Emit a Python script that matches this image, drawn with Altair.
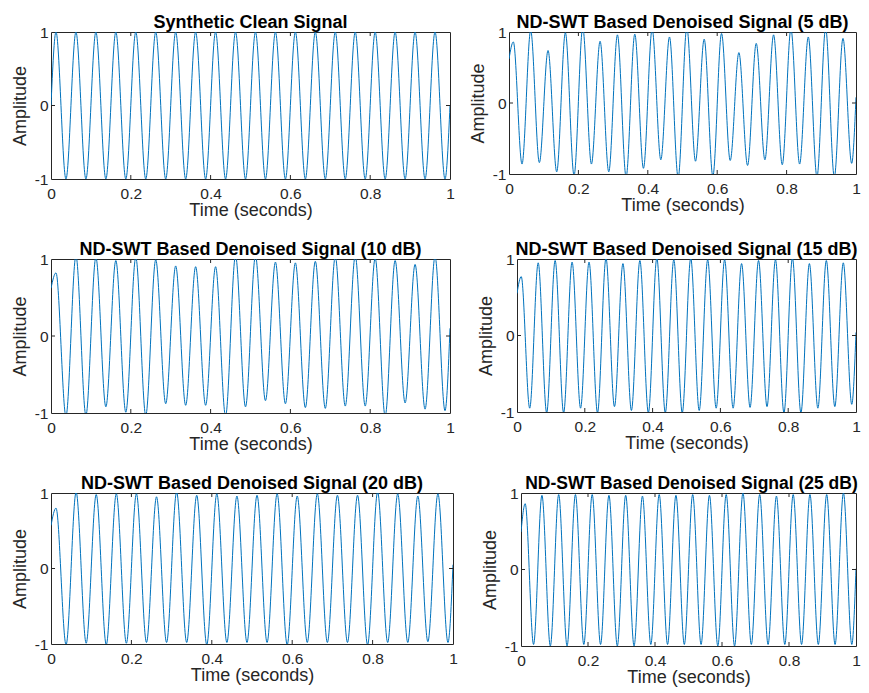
import altair as alt
import pandas as pd

# ---- data ----
times = [0, 0.0125, 0.0375, 0.0625, 0.0875, 0.1125, 0.1375, 0.1625, 0.1875, 0.2125,
         0.2375, 0.2625, 0.2875, 0.3125, 0.3375, 0.3625, 0.3875, 0.4125, 0.4375, 0.4625,
         0.4875, 0.5125, 0.5375, 0.5625, 0.5875, 0.6125, 0.6375, 0.6625, 0.6875, 0.7125,
         0.7375, 0.7625, 0.7875, 0.8125, 0.8375, 0.8625, 0.8875, 0.9125, 0.9375, 0.9625,
         0.9875, 1.0]
x_ticks = [0, 0.2, 0.4, 0.6, 0.8, 1]
y_ticks = [-1, 0, 1]

titles = ["Synthetic Clean Signal",
          "ND-SWT Based Denoised Signal (5 dB)",
          "ND-SWT Based Denoised Signal (10 dB)",
          "ND-SWT Based Denoised Signal (15 dB)",
          "ND-SWT Based Denoised Signal (20 dB)",
          "ND-SWT Based Denoised Signal (25 dB)"]

clean_start, clean_end = 0.0, 0.0
clean_peaks = [1.0] * 20
clean_troughs = [-1.0] * 20

db5_start, db5_end = 0.62, 0.08
db5_peaks = [0.86, 1.02, 0.74, 0.99, 1.06, 0.87, 0.96, 0.97, 1.04, 0.93,
             1.06, 0.90, 0.98, 0.71, 0.84, 0.96, 1.04, 0.93, 1.05, 0.91]
db5_troughs = [-0.86, -0.84, -0.97, -1.02, -0.86, -0.97, -1.04, -0.92, -0.80, -1.05,
               -0.82, -1.03, -0.81, -0.88, -0.80, -0.87, -0.86, -1.04, -1.04, -0.85]

db10_start, db10_end = 0.62, 0.10
db10_peaks = [0.82, 1.04, 1.02, 0.98, 1.02, 0.99, 0.91, 0.90, 0.90, 1.04,
              1.04, 0.96, 0.95, 0.97, 1.03, 1.04, 1.01, 0.98, 0.93, 1.03]
db10_troughs = [-1.04, -1.03, -0.92, -0.99, -1.03, -0.88, -0.90, -0.90, -1.04, -0.92,
                -0.84, -0.88, -0.93, -0.94, -0.91, -0.91, -1.04, -0.87, -0.95, -0.97]

db15_start, db15_end = 0.55, 0.04
db15_peaks = [0.77, 0.95, 0.98, 0.96, 0.96, 1.01, 0.94, 0.98, 1.01, 0.99,
              1.01, 0.99, 0.99, 0.94, 0.98, 0.99, 1.01, 0.94, 0.98, 0.95]
db15_troughs = [-0.95, -1.01, -1.01, -0.95, -1.01, -0.93, -0.98, -1.01, -1.01, -1.01,
                -0.98, -0.95, -0.95, -0.94, -0.93, -1.01, -1.01, -0.95, -0.93, -0.90]

db20_start, db20_end = 0.57, 0.05
db20_peaks = [0.80, 1.01, 0.98, 0.99, 0.99, 0.95, 1.01, 0.97, 0.99, 0.96,
              0.97, 0.99, 0.96, 0.99, 0.97, 0.97, 1.01, 0.99, 0.96, 0.99]
db20_troughs = [-1.01, -0.99, -1.01, -0.99, -0.98, -0.98, -0.98, -1.01, -0.98, -0.98,
                -0.98, -1.01, -0.98, -0.98, -0.98, -1.01, -0.98, -0.98, -0.97, -0.98]

db25_start, db25_end = 0.49, 0.01
db25_peaks = [0.86, 0.97, 0.98, 0.98, 0.98, 0.97, 0.97, 0.96, 0.98, 0.97,
              0.98, 0.97, 0.98, 1.00, 0.98, 0.96, 0.98, 0.98, 0.98, 1.00]
db25_troughs = [-0.98, -1.00, -1.00, -0.98, -0.98, -1.00, -1.00, -0.98, -0.98, -0.98,
                -0.98, -1.00, -1.00, -0.98, -0.98, -0.98, -0.98, -0.98, -0.98, -0.98]

LINE = "#0072BD"
AX = "#262626"
FONT = "Liberation Sans"


def panel(title, start, peaks, troughs, end, w, h, dx=0, tsize=18):
    vals = [start]
    for p, t in zip(peaks, troughs):
        vals += [p, t]
    vals.append(end)
    df = pd.DataFrame({"t": times, "a": vals})
    xs = alt.Scale(domain=[0, 1], nice=False, zero=False)
    ys = alt.Scale(domain=[-1, 1], nice=False, zero=False)
    xax = alt.Axis(values=x_ticks, title="Time (seconds)",
                   labelExpr="'' + datum.value", labelFlush=False,
                   labelOverlap=False, labelPadding=7, titlePadding=0)
    yax = alt.Axis(values=y_ticks, title="Amplitude",
                   labelExpr="'' + datum.value", labelOverlap=False,
                   labelPadding=3, titlePadding=5)
    line = alt.Chart(df).mark_line(
        color=LINE, strokeWidth=1, interpolate="monotone", clip=True
    ).encode(
        x=alt.X("t:Q", scale=xs, axis=xax, title="Time (seconds)"),
        y=alt.Y("a:Q", scale=ys, axis=yax, title="Amplitude"),
    )
    xt = pd.DataFrame({"t": x_ticks[1:-1]})
    yt = pd.DataFrame({"a": y_ticks[1:-1]})
    bt = alt.Chart(xt).mark_rule(color=AX, strokeWidth=1).encode(
        x=alt.X("t:Q", scale=xs, axis=xax, title="Time (seconds)"),
        y=alt.value(h), y2=alt.value(h - 4))
    tt = alt.Chart(xt).mark_rule(color=AX, strokeWidth=1).encode(
        x=alt.X("t:Q", scale=xs, axis=xax, title="Time (seconds)"),
        y=alt.value(0), y2=alt.value(4))
    lt = alt.Chart(yt).mark_rule(color=AX, strokeWidth=1).encode(
        y=alt.Y("a:Q", scale=ys, axis=yax, title="Amplitude"),
        x=alt.value(0), x2=alt.value(4))
    rt = alt.Chart(yt).mark_rule(color=AX, strokeWidth=1).encode(
        y=alt.Y("a:Q", scale=ys, axis=yax, title="Amplitude"),
        x=alt.value(w), x2=alt.value(w - 4))
    return alt.layer(line, bt, tt, lt, rt).properties(
        width=w, height=h, title=alt.TitleParams(title, dx=dx, fontSize=tsize))


p1 = panel(titles[0], clean_start, clean_peaks, clean_troughs, clean_end, 399, 147)
p2 = panel(titles[1], db5_start, db5_peaks, db5_troughs, db5_end, 347, 142)
p3 = panel(titles[2], db10_start, db10_peaks, db10_troughs, db10_end, 399, 154)
p4 = panel(titles[3], db15_start, db15_peaks, db15_troughs, db15_end, 339, 153)
p5 = panel(titles[4], db20_start, db20_peaks, db20_troughs, db20_end, 402, 151)
p6 = panel(titles[5], db25_start, db25_peaks, db25_troughs, db25_end, 335, 153,
           dx=3, tsize=17.5)

row1 = alt.hconcat(p1, p2, spacing=59, bounds="flush")
row2 = alt.hconcat(p3, p4, spacing=67, bounds="flush")
row3 = alt.hconcat(p5, p6, spacing=68, bounds="flush")

chart = alt.vconcat(row1, row2, row3, spacing=20).properties(
    padding={"left": 2, "top": 5, "right": 0, "bottom": 0}
).configure_view(
    stroke=AX, strokeWidth=1
).configure_axis(
    labelFont=FONT, labelFontSize=15.5, labelColor=AX,
    titleFont=FONT, titleFontSize=18, titleFontWeight="normal", titleColor=AX,
    ticks=False, domain=False, grid=False
).configure_title(
    font=FONT, fontSize=18, fontWeight="bold", color="#000000", offset=-6.5
)

chart.save("out.html", embed_options={"renderer": "svg", "actions": False})
